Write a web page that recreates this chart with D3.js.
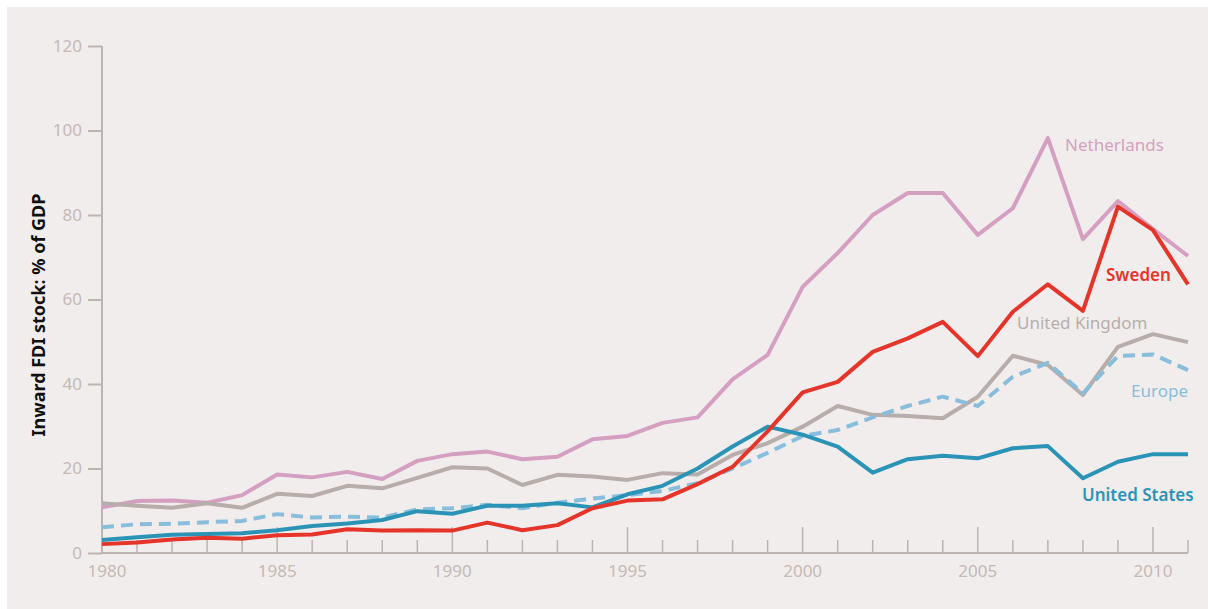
<!DOCTYPE html>
<html>
<head>
<meta charset="utf-8">
<script src="https://cdn.jsdelivr.net/npm/d3@7"></script>
<style>
  body { margin: 0; background: #ffffff; }
  svg { display: block; }
</style>
</head>
<body>
<svg id="chart" width="1208" height="609"></svg>
<script>
// Inward FDI stock as % of GDP, 1980-2011

const years = d3.range(1980, 2012);

const netherlands = [10.8, 12.3, 12.4, 11.9, 13.7, 18.6, 17.9, 19.2, 17.5, 21.8,
  23.4, 24.0, 22.2, 22.8, 26.9, 27.7, 30.8, 32.1, 41.1, 46.9,
  63.0, 71.0, 80.0, 85.2, 85.2, 75.3, 81.6, 98.2, 74.3, 83.3, 76.7, 70.3];

const sweden = [2.1, 2.5, 3.2, 3.6, 3.4, 4.2, 4.4, 5.6, 5.3, 5.4,
  5.3, 7.2, 5.4, 6.6, 10.6, 12.4, 12.7, 16.3, 20.4, 28.8,
  38.0, 40.5, 47.6, 50.8, 54.7, 46.6, 57.1, 63.6, 57.3, 82.0, 76.4, 63.6];

const unitedKingdom = [11.8, 11.2, 10.7, 11.8, 10.7, 14.0, 13.5, 15.9, 15.3, 17.8,
  20.3, 20.0, 16.1, 18.5, 18.1, 17.3, 18.9, 18.6, 23.2, 26.0,
  29.9, 34.8, 32.7, 32.4, 31.9, 37.0, 46.7, 44.5, 37.4, 48.8, 51.8, 49.9];

const europe = [6.1, 6.8, 6.9, 7.3, 7.6, 9.2, 8.4, 8.6, 8.4, 10.3,
  10.6, 11.4, 10.6, 11.9, 12.9, 13.7, 14.7, 16.5, 20.0, 23.7,
  27.7, 29.1, 32.1, 34.8, 37.0, 34.8, 41.7, 45.0, 37.8, 46.6, 47.0, 43.3];

const unitedStates = [3.1, 3.7, 4.3, 4.5, 4.7, 5.4, 6.4, 7.0, 7.8, 9.9,
  9.3, 11.2, 11.2, 11.8, 10.8, 13.9, 15.9, 20.0, 25.2, 29.9,
  28.0, 25.2, 19.0, 22.2, 23.0, 22.4, 24.8, 25.3, 17.7, 21.6, 23.4, 23.4];

const yTicks = [0, 20, 40, 60, 80, 100, 120];
const xLabelYears = [1980, 1985, 1990, 1995, 2000, 2005, 2010];

// series drawn back to front
const series = [
  {name: 'Netherlands', values: netherlands, color: '#d59fc1', dash: null, label: {x: 1065, y: 151}},
  {name: 'United Kingdom', values: unitedKingdom, color: '#b7adab', dash: null, label: {x: 1017, y: 329}},
  {name: 'Europe', values: europe, color: '#88bddb', dash: '12,7', label: {x: 1131, y: 397}},
  {name: 'United States', values: unitedStates, color: '#2b94b6', dash: null, label: {x: 1082, y: 501}},
  {name: 'Sweden', values: sweden, color: '#e5352b', dash: null, label: {x: 1106, y: 281}}
];

const svg = d3.select('#chart');

// panel background
svg.append('rect')
  .attr('x', 7).attr('y', 7)
  .attr('width', 1201).attr('height', 602)
  .attr('fill', '#f1eded');

const x = d3.scaleLinear().domain([1980, 2011]).range([102, 1188]);
const y = d3.scaleLinear().domain([0, 120]).range([553, 46]);

const axisColor = '#bdb4b1';
const labelColor = '#c4b9b5';
const fontFamily = '"Noto Sans", sans-serif';

// y axis
const yAxis = svg.append('g')
  .attr('transform', 'translate(102,0)')
  .call(d3.axisLeft(y).tickValues(yTicks).tickSize(14).tickPadding(6));
yAxis.select('.domain').attr('stroke', axisColor).attr('stroke-width', 2)
  .attr('d', `M0,${y(120)}V${y(0)}`);
yAxis.selectAll('.tick line').attr('stroke', axisColor).attr('stroke-width', 2);
yAxis.selectAll('.tick text')
  .attr('fill', labelColor)
  .style('font-family', fontFamily)
  .style('font-size', '17px');

// x axis: minor ticks each year, longer ones every 5 years
const xAxis = svg.append('g')
  .attr('transform', 'translate(0,553)');
xAxis.append('line')
  .attr('x1', x(1980)).attr('x2', x(2011))
  .attr('y1', 0).attr('y2', 0)
  .attr('stroke', axisColor).attr('stroke-width', 2);
xAxis.selectAll('line.tk')
  .data(years)
  .join('line')
  .attr('class', 'tk')
  .attr('x1', d => x(d)).attr('x2', d => x(d))
  .attr('y1', 0)
  .attr('y2', d => d % 5 === 0 ? -26 : -13)
  .attr('stroke', axisColor).attr('stroke-width', 1.5);
xAxis.selectAll('text')
  .data(xLabelYears)
  .join('text')
  .attr('x', d => x(d) + (d === 1980 ? 5 : 0))
  .attr('y', 24)
  .attr('text-anchor', 'middle')
  .attr('fill', labelColor)
  .style('font-family', fontFamily)
  .style('font-size', '17px')
  .text(d => d);

// y axis title
svg.append('text')
  .attr('transform', 'translate(45,315) rotate(-90)')
  .attr('text-anchor', 'middle')
  .attr('fill', '#111')
  .style('font-family', fontFamily)
  .style('font-weight', 'bold')
  .style('font-size', '18px')
  .text('Inward FDI stock: % of GDP');

// lines
const line = d3.line()
  .x((d, i) => x(years[i]))
  .y(d => y(d));

svg.selectAll('path.series')
  .data(series)
  .join('path')
  .attr('class', 'series')
  .attr('d', d => line(d.values))
  .attr('fill', 'none')
  .attr('stroke', d => d.color)
  .attr('stroke-width', 4)
  .attr('stroke-linejoin', 'round')
  .attr('stroke-dasharray', d => d.dash);

// series labels
svg.selectAll('text.lbl')
  .data(series)
  .join('text')
  .attr('class', 'lbl')
  .attr('x', d => d.label.x)
  .attr('y', d => d.label.y)
  .attr('fill', d => d.color)
  .style('font-family', fontFamily)
  .style('font-size', '17px')
  .style('font-weight', d => d.name === 'Sweden' || d.name === 'United States' ? 600 : 400)
  .text(d => d.name);
</script>
</body>
</html>
